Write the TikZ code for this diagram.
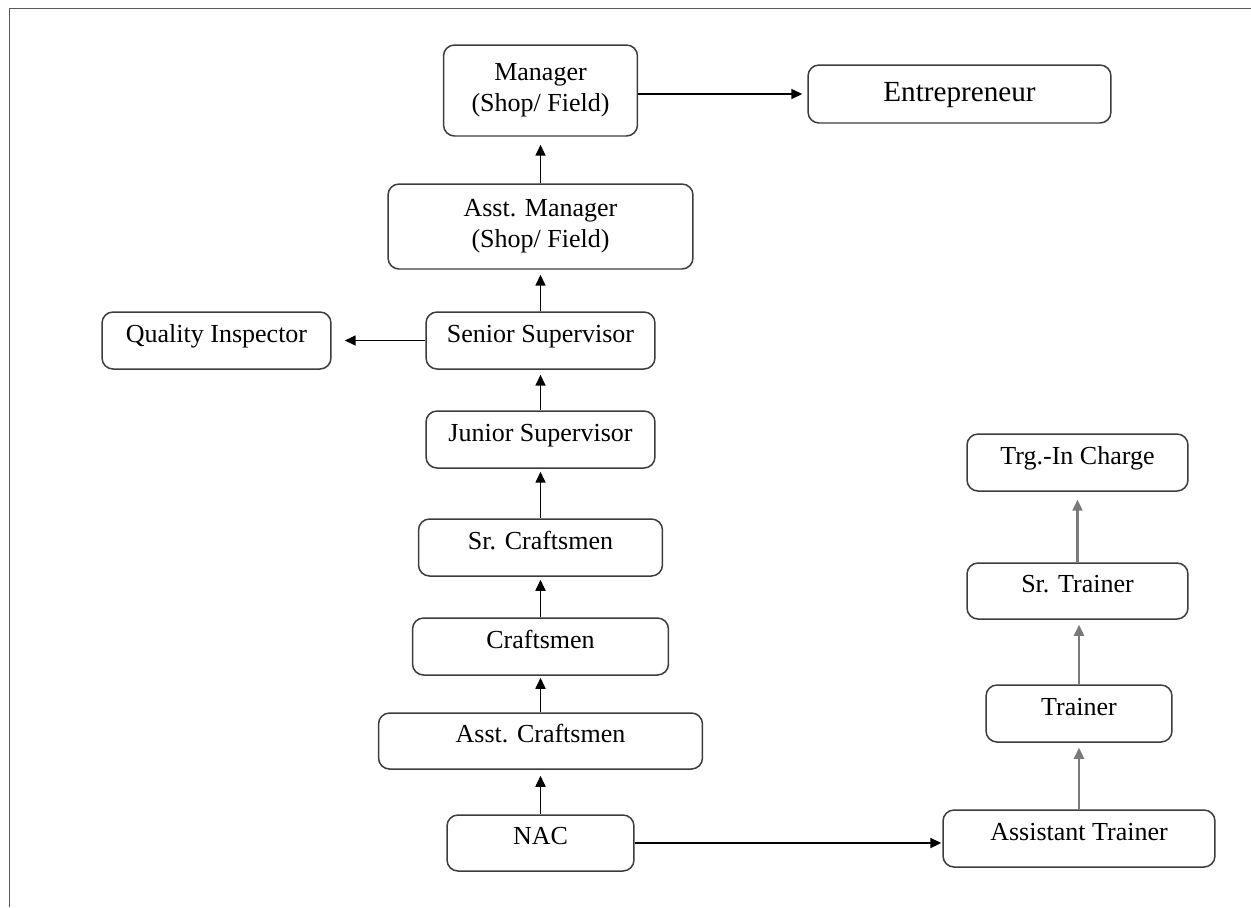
\documentclass[tikz,border=0pt]{standalone}
\usepackage{fontspec}
\setmainfont{Liberation Serif}
\usetikzlibrary{arrows.meta, positioning, calc}
\definecolor{edgegray}{HTML}{3C3C3C}
\definecolor{framegray}{HTML}{5A5A5A}
\definecolor{traingray}{HTML}{7A7A7A}

\begin{document}
\begin{tikzpicture}[x=0.02cm, y=-0.02cm,
    stage/.style={draw=edgegray, line width=0.85pt, rounded corners=0.22cm, inner sep=0pt,
        font=\fontsize{14.8}{17.6}\selectfont, text height=0.62em, text depth=0.45em},
    stagetwo/.style={draw=edgegray, line width=0.85pt, rounded corners=0.22cm, inner sep=0pt,
        align=center, font=\fontsize{14.8}{17.6}\selectfont},
    link/.style={-{Triangle[length=0.22cm, width=0.2cm]}, line width=0.95pt, black, shorten >=0.1cm},
    trlink/.style={link, traingray, line width=1.3pt}]
    \useasboundingbox (0,0) rectangle (1251,907);
    \draw[framegray, line width=0.8pt] (9.5,907) -- (9.5,8.7) -- (1251,8.7);
    % shop / field ladder
    \node[stagetwo, minimum width=3.88cm, minimum height=1.82cm] (mgr) at (540.5,90.5) {Manager\\(Shop/ Field)};
    \node[draw=edgegray, line width=0.85pt, rounded corners=0.22cm, inner sep=0pt, font=\fontsize{16.6}{20}\selectfont,
        text height=0.95em, text depth=0.15em, minimum width=6.06cm, minimum height=1.16cm] (entre) at (959.5,94) {Entrepreneur};
    \node[stagetwo, minimum width=6.10cm, minimum height=1.70cm] (amgr) at (540.5,226.5) {Asst. Manager\\(Shop/ Field)};
    \node[stage, minimum width=4.58cm, minimum height=1.14cm] (qi) at (216.5,340.5) {Quality Inspector};
    \node[stage, minimum width=4.58cm, minimum height=1.14cm] (ssup) at (540.5,340.5) {Senior Supervisor};
    \node[stage, minimum width=4.58cm, minimum height=1.14cm] (jsup) at (540.5,439.5) {Junior Supervisor};
    \node[stage, minimum width=4.88cm, minimum height=1.14cm] (scraft) at (540.5,547.5) {Sr. Craftsmen};
    \node[stage, minimum width=5.12cm, minimum height=1.14cm] (craft) at (540.5,646.5) {Craftsmen};
    \node[stage, minimum width=6.48cm, minimum height=1.12cm] (acraft) at (540.5,741) {Asst. Craftsmen};
    \node[stage, minimum width=3.74cm, minimum height=1.12cm] (nac) at (540.5,843) {NAC};
    % training ladder
    \node[stage, minimum width=5.44cm, minimum height=1.14cm] (atr) at (1079,838.5) {Assistant Trainer};
    \node[stage, minimum width=3.72cm, minimum height=1.14cm] (tr) at (1079,713.5) {Trainer};
    \node[stage, minimum width=4.42cm, minimum height=1.12cm] (srtr) at (1077.5,591) {Sr. Trainer};
    \node[stage, minimum width=4.42cm, minimum height=1.14cm] (trg) at (1077.5,462.5) {Trg.-In Charge};
    % arrows
    \draw[link] (mgr.east |- entre.west) -- (entre.west);
    \draw[link, shorten >=0.16cm] (amgr.north) -- (mgr.south);
    \draw[link] (ssup.north) -- (amgr.south);
    \draw[link, shorten >=0.26cm] (ssup.west) -- (qi.east);
    \draw[link] (jsup.north) -- (ssup.south);
    \draw[link, shorten >=0.06cm] (scraft.north) -- (jsup.south);
    \draw[link, shorten >=0.06cm] (craft.north) -- (scraft.south);
    \draw[link, shorten >=0.04cm] (acraft.north) -- (craft.south);
    \draw[link, shorten >=0.12cm] (nac.north) -- (acraft.south);
    \draw[link, shorten >=0.02cm] (nac.east) -- (nac.east -| atr.west);
    \draw[trlink] (atr.north) -- (atr.north |- tr.south);
    \draw[trlink] (tr.north) -- (tr.north |- srtr.south);
    \draw[trlink, shorten >=0.16cm] (srtr.north) -- (srtr.north |- trg.south);
\end{tikzpicture}
\end{document}
